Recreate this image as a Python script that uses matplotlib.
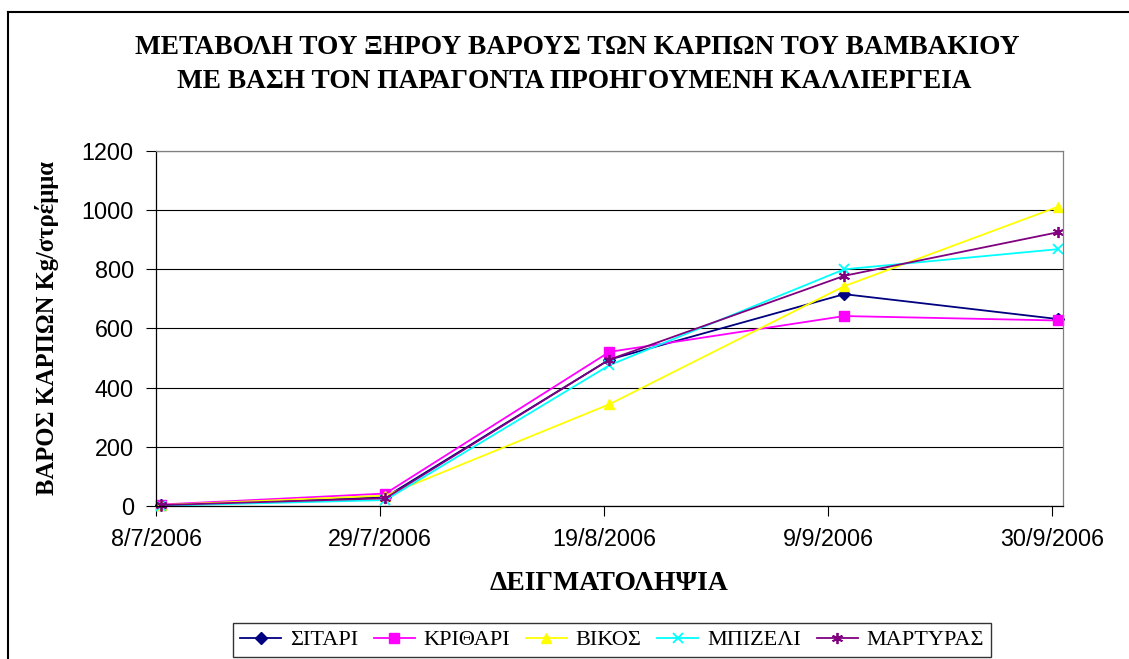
import datetime as dt
import matplotlib
matplotlib.use("Agg")
import matplotlib.pyplot as plt
from matplotlib.lines import Line2D

# === Data ===
dates = [dt.datetime(2006, 7, 8), dt.datetime(2006, 7, 29), dt.datetime(2006, 8, 19),
         dt.datetime(2006, 9, 10), dt.datetime(2006, 9, 30)]
tick_dates = [dt.datetime(2006, 7, 8), dt.datetime(2006, 7, 29), dt.datetime(2006, 8, 19),
              dt.datetime(2006, 9, 9), dt.datetime(2006, 9, 30)]
tick_labels = ["8/7/2006", "29/7/2006", "19/8/2006", "9/9/2006", "30/9/2006"]

sitari = [2, 30, 495, 716, 632]
krithari = [5, 42, 521, 642, 627]
vikos = [3, 35, 344, 743, 1011]
mpizeli = [1, 20, 476, 800, 868]
martyras = [3, 26, 495, 778, 925]

series = [
    ("ΣΙΤΑΡΙ", sitari, "#000080", "D", 6),
    ("ΚΡΙΘΑΡΙ", krithari, "#FF00FF", "s", 6.5),
    ("ΒΙΚΟΣ", vikos, "#FFFF00", "^", 7.5),
    ("ΜΠΙΖΕΛΙ", mpizeli, "#00FFFF", "x", 7),
    ("ΜΑΡΤΥΡΑΣ", martyras, "#800080", (6, 2, 0), 8),
]

serif = "Liberation Serif"
sans = "Liberation Sans"

fig = plt.figure(figsize=(11.29, 6.59), dpi=100)
ax = fig.add_axes([0.1382, 0.2322, 0.9415 - 0.1382, 0.7709 - 0.2322])

# Excel date axis puts each point in the middle of its day
half_day = dt.timedelta(hours=12)
for name, vals, col, mk, ms in series:
    thin = mk == "x" or isinstance(mk, tuple)
    ax.plot([d + half_day for d in dates], vals, color=col, lw=1.3, marker=mk,
            markersize=ms, markeredgewidth=1.3 if thin else 1.0,
            markeredgecolor=col, markerfacecolor=col, label=name, clip_on=False)

ax.set_xlim(dt.datetime(2006, 7, 8), dt.datetime(2006, 10, 1))
ax.set_ylim(0, 1200)
ax.set_yticks(range(0, 1201, 200))
ax.set_xticks(tick_dates)
ax.set_xticklabels(tick_labels)
ax.yaxis.grid(True, color="black", lw=0.8)
ax.set_axisbelow(True)

for lbl in ax.get_xticklabels() + ax.get_yticklabels():
    lbl.set_fontfamily(sans)
    lbl.set_fontsize(16.8)
ax.tick_params(axis="both", direction="out", length=7, width=0.8, color="black")
ax.tick_params(axis="x", pad=9)
ax.tick_params(axis="y", pad=9)

ax.spines["left"].set_color("black")
ax.spines["bottom"].set_color("black")
ax.spines["top"].set_color("#808080")
ax.spines["right"].set_color("#808080")
for sp in ax.spines.values():
    sp.set_linewidth(0.9)

ax.set_xlabel("ΔΕΙΓΜΑΤΟΛΗΨΙΑ", fontfamily=serif, fontweight="bold", fontsize=20, labelpad=14)
ax.set_ylabel("ΒΑΡΟΣ ΚΑΡΠΩΝ Kg/στρέμμα", fontfamily=serif, fontweight="bold", fontsize=17.7,
              labelpad=16)

fig.text(0.511, 1 - 47 / 659, "ΜΕΤΑΒΟΛΗ ΤΟΥ ΞΗΡΟΥ ΒΑΡΟΥΣ ΤΩΝ ΚΑΡΠΩΝ ΤΟΥ ΒΑΜΒΑΚΙΟΥ",
         ha="center", va="center", fontfamily=serif, fontweight="bold", fontsize=19.7)
fig.text(0.509, 1 - 81 / 659, "ΜΕ ΒΑΣΗ ΤΟΝ ΠΑΡΑΓΟΝΤΑ ΠΡΟΗΓΟΥΜΕΝΗ ΚΑΛΛΙΕΡΓΕΙΑ",
         ha="center", va="center", fontfamily=serif, fontweight="bold", fontsize=19.7)

# outer chart frame (only left and top edges are visible in the picture)
fig.add_artist(Line2D([8 / 1129, 8 / 1129], [0, 1 - 12 / 659], transform=fig.transFigure,
                      color="black", lw=1.5))
fig.add_artist(Line2D([8 / 1129, 1], [1 - 12 / 659, 1 - 12 / 659], transform=fig.transFigure,
                      color="black", lw=1.5))

leg = fig.legend(loc="center", bbox_to_anchor=(612 / 1129, 1 - 640 / 659), ncol=5,
                 prop={"family": serif, "size": 16}, frameon=True, fancybox=False,
                 edgecolor="black", handlelength=1.85, columnspacing=0.7, handletextpad=0.4,
                 borderpad=0.3, borderaxespad=0)
leg.get_frame().set_linewidth(1.0)

fig.savefig("out.png", dpi=100)
